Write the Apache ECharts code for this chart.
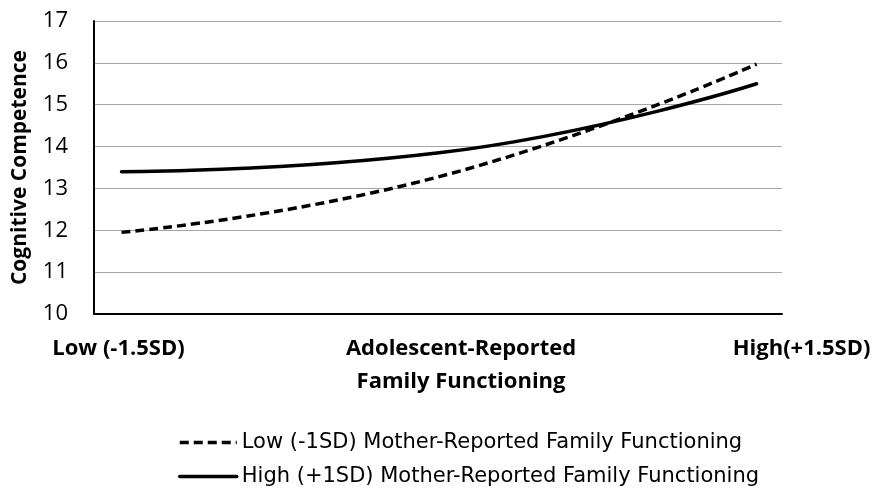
<!DOCTYPE html>
<html>
<head>
<meta charset="utf-8">
<script src="https://cdn.jsdelivr.net/npm/echarts@6/dist/echarts.min.js"></script>
<style>
  html, body { margin: 0; padding: 0; background: #fff; }
  #chart { width: 877px; height: 492px; }
</style>
</head>
<body>
<div id="chart"></div>
<script>
// Adolescent-reported family functioning levels (in SD units) and their labels
const xLevels = [-1.5, 0, 1.5];
const xLabels = ['Low (-1.5SD)', 'Adolescent-Reported\nFamily Functioning', 'High(+1.5SD)'];

// Cognitive competence predicted at each level
const lowMotherValues = [11.95, 13.28, 15.97];
const highMotherValues = [13.4, 13.85, 15.5];

const seriesNames = [
  'Low (-1SD) Mother-Reported Family Functioning',
  'High (+1SD) Mother-Reported Family Functioning'
];

const yTicks = { min: 10, max: 17, interval: 1 };

const FONT = '"Open Sans", Lato, sans-serif';
const LEGEND_FONT = '"DejaVu Sans", "Open Sans", sans-serif';

// horizontal nudge of each category label relative to its level, in px
const labelShift = [-3, 22, 45];
const richStyles = {};
labelShift.forEach((d, i) => {
  richStyles['l' + i] = {
    fontFamily: FONT,
    fontWeight: 'bold',
    fontSize: 22,
    color: '#000',
    lineHeight: 33,
    padding: d >= 0 ? [0, 0, 0, 2 * d] : [0, -2 * d, 0, 0]
  };
});

const lineStyles = [
  { color: '#000', width: 3.5, type: [9, 5], cap: 'butt' },
  { color: '#000', width: 3.5, type: 'solid', cap: 'round' }
];

// one legend box per series, stacked vertically
const legendTops = [427, 461];
const legends = seriesNames.map((name, i) => ({
  left: 173,
  top: legendTops[i],
  itemWidth: 57,
  itemHeight: 14,
  itemStyle: { opacity: 0 },
  lineStyle: { width: 3.5 },
  textStyle: { fontFamily: LEGEND_FONT, fontSize: 21, color: '#000' },
  data: [name]
}));

const chart = echarts.init(document.getElementById('chart'), null, { renderer: 'canvas' });

chart.setOption({
  animation: false,
  backgroundColor: '#fff',
  grid: { left: 94, right: 95, top: 21, bottom: 178, containLabel: false },
  xAxis: {
    type: 'value',
    min: -1.63,
    max: 1.62,
    axisLine: { show: true, onZero: false, lineStyle: { color: '#000', width: 2 } },
    axisTick: { show: false },
    splitLine: { show: false },
    axisLabel: {
      customValues: xLevels,
      margin: 18,
      formatter: function (v) {
        const i = xLevels.indexOf(v);
        if (i < 0) return '';
        return xLabels[i].split('\n').map(s => '{l' + i + '|' + s + '}').join('\n');
      },
      rich: richStyles
    }
  },
  yAxis: {
    type: 'value',
    min: yTicks.min,
    max: yTicks.max,
    interval: yTicks.interval,
    name: 'Cognitive Competence',
    nameLocation: 'middle',
    nameGap: 63,
    nameTextStyle: { fontFamily: FONT, fontWeight: 'bold', fontSize: 21, color: '#000' },
    axisLine: { show: true, onZero: false, lineStyle: { color: '#000', width: 2 } },
    axisTick: { show: false },
    axisLabel: { fontFamily: FONT, fontSize: 22, color: '#000', margin: 26 },
    splitLine: { show: true, lineStyle: { color: '#a6a6a6', width: 1 } }
  },
  legend: legends,
  series: seriesNames.map((name, i) => ({
    name: name,
    type: 'line',
    smooth: true,
    symbol: 'none',
    data: xLevels.map((x, j) => [x, (i === 0 ? lowMotherValues : highMotherValues)[j]]),
    lineStyle: lineStyles[i],
    itemStyle: { color: '#000' }
  }))
});
</script>
</body>
</html>
